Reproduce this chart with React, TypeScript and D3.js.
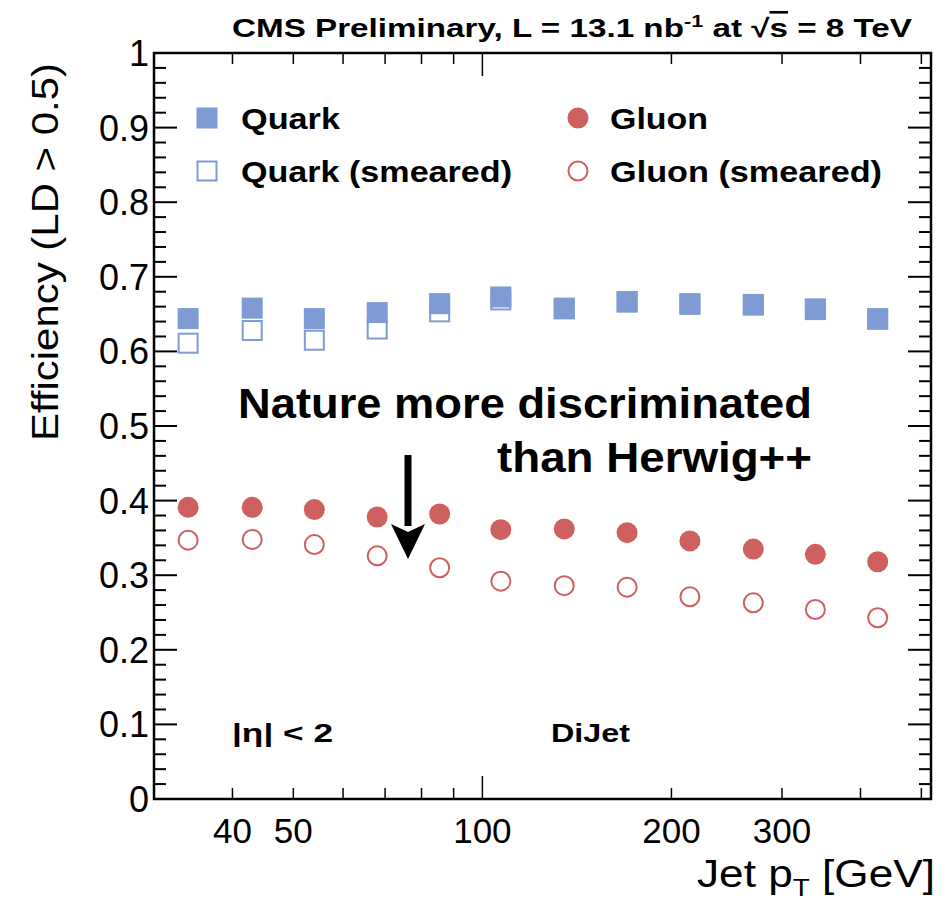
import React from 'react';
import * as d3 from 'd3';

// jet pT bin centres (GeV) and efficiencies
const ptBins = [34, 43, 54, 68, 85.5, 107, 135, 170, 214, 270, 339, 426];
const quark = [0.644, 0.658, 0.644, 0.652, 0.664, 0.673, 0.658, 0.667, 0.664, 0.663, 0.657, 0.644];
const quarkSmeared = [0.611, 0.628, 0.615, 0.630, 0.653, 0.669, 0.657, 0.666, 0.663, 0.662, 0.656, 0.643];
const gluon = [0.391, 0.391, 0.388, 0.378, 0.382, 0.361, 0.362, 0.357, 0.346, 0.335, 0.328, 0.318];
const gluonSmeared = [0.347, 0.348, 0.341, 0.326, 0.310, 0.292, 0.286, 0.284, 0.271, 0.263, 0.254, 0.243];

const xTickLabels = [40, 50, 100, 200, 300];
const xMinorTicks = [40, 50, 60, 70, 80, 90, 200, 300, 400, 500];
const xMajorTicks = [100];

const BLUE = '#7e9bd3';
const RED = '#cf6060';

const W = 950;
const H = 908;
const frame = { left: 154, right: 931, top: 53, bottom: 799 };

const App = () => {
  const x = d3.scaleLog().domain([30, 518]).range([frame.left, frame.right]);
  const y = d3.scaleLinear().domain([0, 1]).range([frame.bottom, frame.top]);

  const yMajor = d3.range(0, 11).map(i => i / 10);
  const yMinor = d3.range(0, 51).map(i => i / 50).filter(v => Math.round(v * 50) % 5 !== 0);

  const sq = 21;
  const r = 10.5;
  const sans = "'Liberation Sans', Arial, Helvetica, sans-serif";
  const fit = 'spacingAndGlyphs';

  return (
    <svg width={W} height={H} style={{ position: 'absolute', left: 0, top: 0, background: '#fff' }}
      fontFamily={sans}>
      <rect x={0} y={0} width={W} height={H} fill="#fff" />

      {/* frame */}
      <rect x={frame.left} y={frame.top} width={frame.right - frame.left} height={frame.bottom - frame.top}
        fill="none" stroke="#000" strokeWidth={2.5} />

      {/* y ticks, both sides */}
      {yMajor.map(v => (
        <g key={'ym' + v}>
          <line x1={frame.left} x2={frame.left + 23} y1={y(v)} y2={y(v)} stroke="#000" strokeWidth={2} />
          <line x1={frame.right} x2={frame.right - 23} y1={y(v)} y2={y(v)} stroke="#000" strokeWidth={2} />
          <text x={149} y={y(v) + 13} fontSize={36} textAnchor="end">{d3.format('')(v)}</text>
        </g>
      ))}
      {yMinor.map(v => (
        <g key={'yn' + v}>
          <line x1={frame.left} x2={frame.left + 12} y1={y(v)} y2={y(v)} stroke="#000" strokeWidth={2} />
          <line x1={frame.right} x2={frame.right - 12} y1={y(v)} y2={y(v)} stroke="#000" strokeWidth={2} />
        </g>
      ))}

      {/* x ticks, bottom and top */}
      {xMajorTicks.map(v => (
        <g key={'xm' + v}>
          <line x1={x(v)} x2={x(v)} y1={frame.bottom} y2={frame.bottom - 23} stroke="#000" strokeWidth={1.5} />
          <line x1={x(v)} x2={x(v)} y1={frame.top} y2={frame.top + 23} stroke="#000" strokeWidth={1.5} />
        </g>
      ))}
      {xMinorTicks.map(v => (
        <g key={'xn' + v}>
          <line x1={x(v)} x2={x(v)} y1={frame.bottom} y2={frame.bottom - 11} stroke="#000" strokeWidth={1.5} />
          <line x1={x(v)} x2={x(v)} y1={frame.top} y2={frame.top + 11} stroke="#000" strokeWidth={1.5} />
        </g>
      ))}
      {xTickLabels.map(v => (
        <text key={'xl' + v} x={x(v)} y={843} fontSize={35} textAnchor="middle">{v}</text>
      ))}

      {/* axis titles */}
      <text x={697} y={887} fontSize={38} textLength={238} lengthAdjust={fit}>
        Jet p<tspan fontSize={24} dy={9}>T</tspan><tspan dy={-9}> [GeV]</tspan>
      </text>
      <text transform="translate(58,441) rotate(-90)" fontSize={36} textLength={378} lengthAdjust={fit}>
        Efficiency (LD &gt; 0.5)
      </text>

      {/* title */}
      <text x={232} y={37} fontSize={26} fontWeight="bold" textLength={680} lengthAdjust={fit}
        fontFamily="'Liberation Sans Narrow', 'Arial Narrow', 'Liberation Sans', sans-serif">
        CMS Preliminary, L = 13.1 nb<tspan fontSize={17} dy={-10}>-1</tspan>
        <tspan dy={10}> at  √</tspan><tspan textDecoration="overline">s</tspan> = 8 TeV
      </text>

      {/* smeared markers */}
      {ptBins.map((p, i) => (
        <rect key={'qs' + i} x={x(p) - sq / 2 + 1} y={y(quarkSmeared[i]) - sq / 2 + 1} width={sq - 2} height={sq - 2}
          fill="none" stroke={BLUE} strokeWidth={2} />
      ))}
      {ptBins.map((p, i) => (
        <circle key={'gs' + i} cx={x(p)} cy={y(gluonSmeared[i])} r={r - 1} fill="none" stroke={RED} strokeWidth={2} />
      ))}
      {/* nominal markers */}
      {ptBins.map((p, i) => (
        <rect key={'q' + i} x={x(p) - sq / 2} y={y(quark[i]) - sq / 2} width={sq} height={sq} fill={BLUE} />
      ))}
      {ptBins.map((p, i) => (
        <circle key={'g' + i} cx={x(p)} cy={y(gluon[i])} r={r} fill={RED} />
      ))}

      {/* legend */}
      <rect x={207 - sq / 2} y={118 - sq / 2} width={sq} height={sq} fill={BLUE} />
      <text x={241} y={129} fontSize={30} fontWeight="bold" textLength={99} lengthAdjust={fit}>Quark</text>
      <rect x={207 - sq / 2 + 1} y={171 - sq / 2 + 1} width={sq - 2} height={sq - 2} fill="none" stroke={BLUE} strokeWidth={2} />
      <text x={241} y={182} fontSize={30} fontWeight="bold" textLength={271} lengthAdjust={fit}>Quark (smeared)</text>
      <circle cx={578} cy={118} r={r} fill={RED} />
      <text x={610} y={129} fontSize={30} fontWeight="bold" textLength={98} lengthAdjust={fit}>Gluon</text>
      <circle cx={578} cy={171} r={r - 1} fill="none" stroke={RED} strokeWidth={2} />
      <text x={610} y={182} fontSize={30} fontWeight="bold" textLength={272} lengthAdjust={fit}>Gluon (smeared)</text>

      {/* annotation */}
      <text x={238} y={418} fontSize={42} fontWeight="bold" textLength={574} lengthAdjust={fit}>Nature more discriminated</text>
      <text x={497} y={472} fontSize={42} fontWeight="bold" textLength={315} lengthAdjust={fit}>than Herwig++</text>
      <line x1={408} x2={408} y1={455} y2={526} stroke="#000" strokeWidth={7} />
      <path d="M391,524 L408,532 L425,524 L408,559 Z" fill="#000" />

      {/* region labels */}
      <text x={232} y={742} fontSize={26} fontWeight="bold" textLength={101} lengthAdjust={fit}>|η| &lt; 2</text>
      <text x={551} y={742} fontSize={26} fontWeight="bold" textLength={79} lengthAdjust={fit}>DiJet</text>
    </svg>
  );
};

export default App;
